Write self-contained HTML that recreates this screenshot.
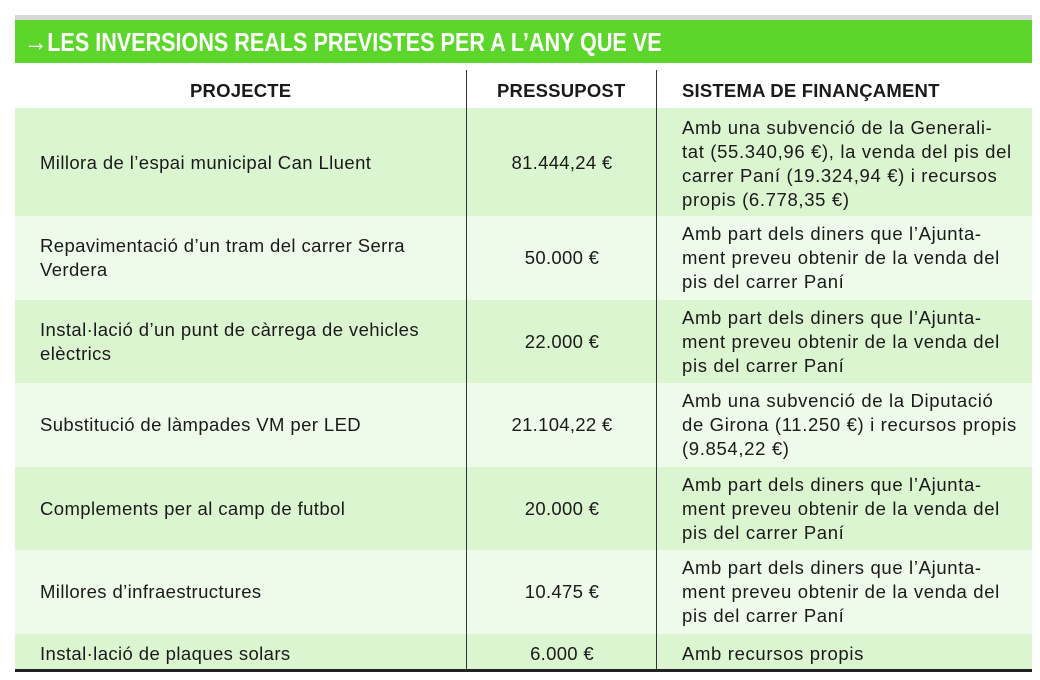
<!DOCTYPE html>
<html><head><meta charset="utf-8"><style>
body{margin:0;width:1040px;height:680px;background:#fff;position:relative;overflow:hidden;font-family:"Liberation Sans",sans-serif;color:#1a1a1a}
.a{position:absolute}
.row{position:absolute;left:15px;width:1017px}
.t{position:absolute;font-size:18.5px;line-height:24px;letter-spacing:0.4px}
.c1{left:40px;white-space:nowrap}
.c2{left:467px;width:190px;text-align:center;letter-spacing:0.3px}
.c3{left:682px;width:360px;letter-spacing:0.65px;white-space:nowrap}
.h{position:absolute;top:79px;font-size:18.5px;font-weight:bold;line-height:24px;letter-spacing:0.2px}
</style></head><body>
<div class="a" style="left:15px;top:15px;width:1017px;height:5px;background:#d8d8d8"></div>
<div class="a" style="left:15px;top:20px;width:1017px;height:43px;background:#5dd62c"></div>
<div class="a" style="left:24px;top:27px;color:#fff;font-weight:bold;font-size:26px;line-height:30px;transform:scaleX(0.83);transform-origin:0 0;white-space:nowrap"><span style="font-size:28px">→</span>LES INVERSIONS REALS PREVISTES PER A L’ANY QUE VE</div>
<div class="h" style="left:190px">PROJECTE</div>
<div class="h" style="left:497px">PRESSUPOST</div>
<div class="h" style="left:682px">SISTEMA DE FINANÇAMENT</div>
<div class="row" style="top:108px;height:108px;background:#dcf5d1"></div>
<div class="row" style="top:216px;height:84px;background:#eefaea"></div>
<div class="row" style="top:300px;height:83px;background:#dcf5d1"></div>
<div class="row" style="top:383px;height:84px;background:#eefaea"></div>
<div class="row" style="top:467px;height:83px;background:#dcf5d1"></div>
<div class="row" style="top:550px;height:84px;background:#eefaea"></div>
<div class="row" style="top:634px;height:36px;background:#dcf5d1"></div>
<div class="a" style="left:466px;top:70px;width:1px;height:600px;background:#333"></div>
<div class="a" style="left:656px;top:70px;width:1px;height:600px;background:#333"></div>
<div class="a" style="left:15px;top:669px;width:1017px;height:3px;background:#222"></div>

<div class="t c1" style="top:151px">Millora de l’espai municipal Can Lluent</div>
<div class="t c2" style="top:151px">81.444,24 €</div>
<div class="t c3" style="top:116px">Amb una subvenció de la Generali-<br>tat (55.340,96 €), la venda del pis del<br>carrer Paní (19.324,94 €) i recursos<br>propis (6.778,35 €)</div>

<div class="t c1" style="top:234px">Repavimentació d’un tram del carrer Serra<br>Verdera</div>
<div class="t c2" style="top:246px">50.000 €</div>
<div class="t c3" style="top:222px">Amb part dels diners que l’Ajunta-<br>ment preveu obtenir de la venda del<br>pis del carrer Paní</div>

<div class="t c1" style="top:318px">Instal·lació d’un punt de càrrega de vehicles<br>elèctrics</div>
<div class="t c2" style="top:330px">22.000 €</div>
<div class="t c3" style="top:306px">Amb part dels diners que l’Ajunta-<br>ment preveu obtenir de la venda del<br>pis del carrer Paní</div>

<div class="t c1" style="top:413px">Substitució de làmpades VM per LED</div>
<div class="t c2" style="top:413px">21.104,22 €</div>
<div class="t c3" style="top:389px">Amb una subvenció de la Diputació<br>de Girona (11.250 €) i recursos propis<br>(9.854,22 €)</div>

<div class="t c1" style="top:497px">Complements per al camp de futbol</div>
<div class="t c2" style="top:497px">20.000 €</div>
<div class="t c3" style="top:473px">Amb part dels diners que l’Ajunta-<br>ment preveu obtenir de la venda del<br>pis del carrer Paní</div>

<div class="t c1" style="top:580px">Millores d’infraestructures</div>
<div class="t c2" style="top:580px">10.475 €</div>
<div class="t c3" style="top:556px">Amb part dels diners que l’Ajunta-<br>ment preveu obtenir de la venda del<br>pis del carrer Paní</div>

<div class="t c1" style="top:642px">Instal·lació de plaques solars</div>
<div class="t c2" style="top:642px">6.000 €</div>
<div class="t c3" style="top:642px">Amb recursos propis</div>
</body></html>
